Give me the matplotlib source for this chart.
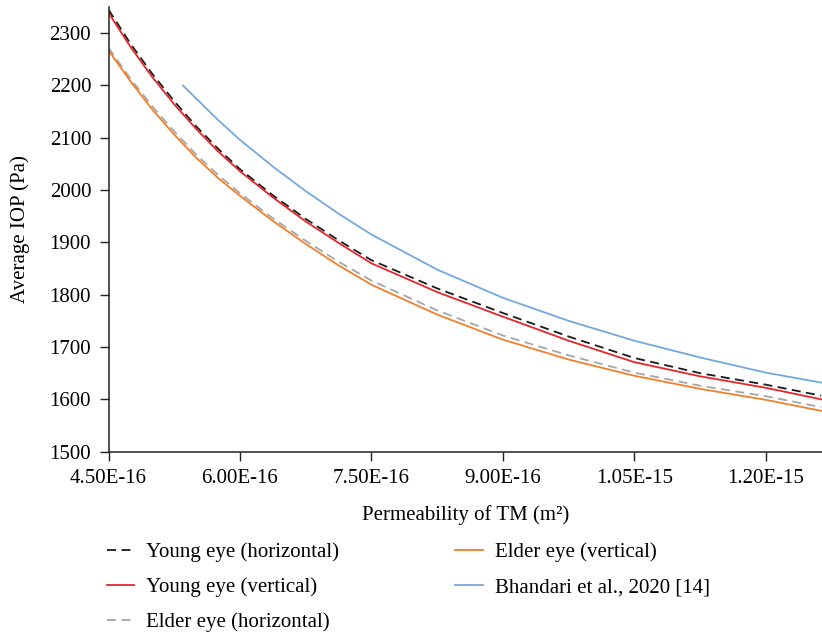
import matplotlib
matplotlib.use("Agg")
import matplotlib.pyplot as plt
from matplotlib.ticker import FormatStrFormatter

plt.rcParams['font.family'] = ['Liberation Serif', 'DejaVu Serif']

# permeability of TM (m^2)
perm = [4.5e-16, 4.75e-16, 5.0e-16, 5.25e-16, 5.5e-16, 5.75e-16, 6.0e-16,
        6.375e-16, 6.75e-16, 7.125e-16, 7.5e-16, 8.25e-16, 9.0e-16,
        9.75e-16, 1.05e-15, 1.125e-15, 1.2e-15, 1.263e-15]
young_h = [2345, 2280, 2222, 2170, 2122, 2079, 2040, 1990, 1945, 1904, 1866,
           1812, 1765, 1720, 1679, 1650, 1628, 1607]
young_v = [2339, 2274, 2216, 2164, 2117, 2074, 2036, 1986, 1940, 1899, 1860,
           1805, 1758, 1712, 1671, 1644, 1622, 1600]
elder_h = [2272, 2213, 2160, 2112, 2068, 2029, 1994, 1946, 1903, 1863, 1827,
           1770, 1722, 1684, 1651, 1626, 1606, 1585]
elder_v = [2267, 2208, 2154, 2106, 2062, 2023, 1989, 1941, 1897, 1856, 1819,
           1762, 1714, 1676, 1645, 1620, 1599, 1578]

perm_b = [5.35e-16, 5.5e-16, 5.75e-16, 6.0e-16, 6.375e-16, 6.75e-16, 7.125e-16,
          7.5e-16, 8.25e-16, 9.0e-16, 9.75e-16, 1.05e-15, 1.125e-15, 1.2e-15, 1.263e-15]
bhandari = [2200, 2175, 2134, 2096, 2045, 1998, 1955, 1915, 1848, 1794, 1750,
            1712, 1680, 1651, 1632]

xticks = [4.5e-16, 6.0e-16, 7.5e-16, 9.0e-16, 1.05e-15, 1.2e-15]
yticks = [1500, 1600, 1700, 1800, 1900, 2000, 2100, 2200, 2300]

fig = plt.figure(figsize=(8.22, 6.37), dpi=100)
ax = fig.add_axes([0.132, 0.291, 0.868, 0.698])

lw = 1.3
ax.plot(perm, young_h, color='#1a1a1a', lw=lw, dashes=(5, 3), label='Young eye (horizontal)')
ax.plot(perm, young_v, color='#e5262b', lw=lw, label='Young eye (vertical)')
ax.plot(perm, elder_h, color='#a6a6a6', lw=lw, dashes=(5, 3), label='Elder eye (horizontal)')
ax.plot(perm, elder_v, color='#f0802c', lw=lw, label='Elder eye (vertical)')
ax.plot(perm_b, bhandari, color='#74a8dc', lw=lw, label='Bhandari et al., 2020 [14]')

ax.set_xlim(4.5e-16, 1.264e-15)
ax.set_ylim(1500, 2350)
ax.set_xticks(xticks)
ax.set_yticks(yticks)
ax.xaxis.set_major_formatter(FormatStrFormatter('%.2E'))
ax.tick_params(direction='out', length=6.5, width=1.0, labelsize=15, pad=6, color='#222222')

for side in ['top', 'right']:
    ax.spines[side].set_visible(False)
for side in ['left', 'bottom']:
    ax.spines[side].set_linewidth(1.1)
    ax.spines[side].set_color('#222222')

ax.set_xlabel('Permeability of TM (m²)', fontsize=15, labelpad=12)
ax.set_ylabel('Average IOP (Pa)', fontsize=15, labelpad=14)

fig.legend(loc='upper left', bbox_to_anchor=(0.130, 0.148), ncol=2, frameon=False,
           fontsize=15, handlelength=1.32, handletextpad=0.58, columnspacing=5.55,
           labelspacing=0.73, borderpad=0, borderaxespad=0)

fig.savefig('out.png', dpi=100)
